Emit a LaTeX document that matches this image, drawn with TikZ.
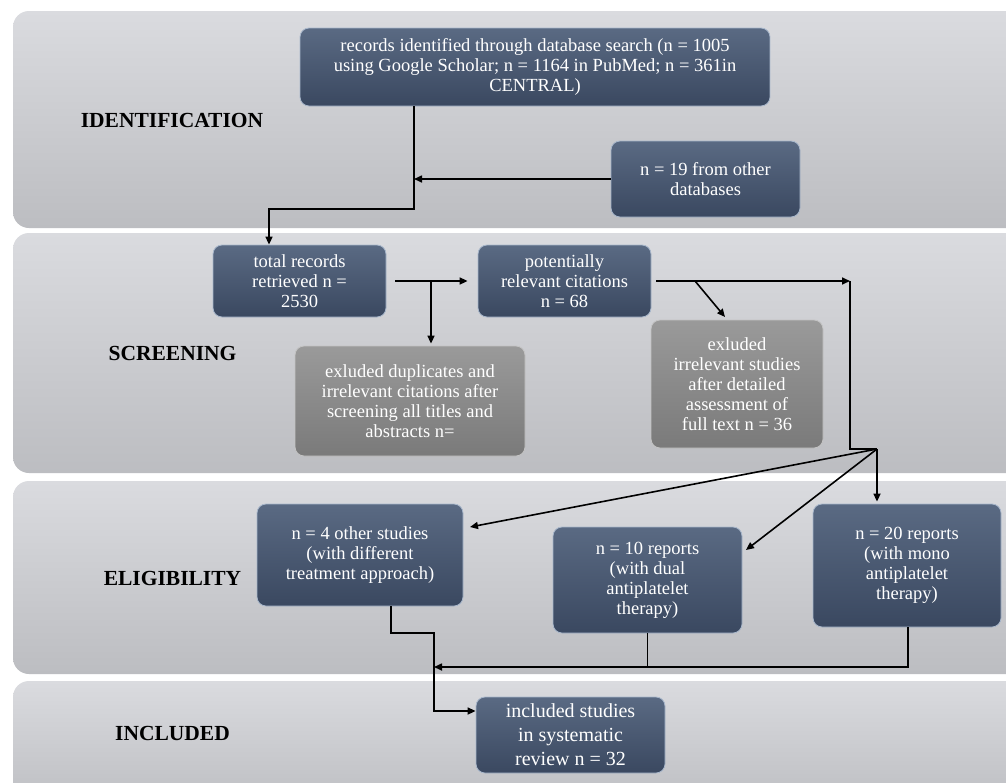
\documentclass[tikz,border=0pt]{standalone}
\usepackage{fontspec}
\setmainfont{Liberation Serif}
\usetikzlibrary{arrows.meta,calc}
\definecolor{bandtop}{HTML}{DADBDF}
\definecolor{bandbot}{HTML}{BCBDC1}
\definecolor{boxtop}{HTML}{5A6A83}
\definecolor{boxbot}{HTML}{3A4860}
\definecolor{boxline}{HTML}{A9B8CC}
\definecolor{greytop}{HTML}{9A9A9A}
\definecolor{greybot}{HTML}{7A7A7A}
\definecolor{greyline}{HTML}{C4C4C4}
\begin{document}
\begin{tikzpicture}[x=1pt,y=-1pt,
  band/.style={top color=bandtop,bottom color=bandbot,rounded corners=16pt},
  bluebox/.style={rounded corners=9pt, draw=boxline, line width=0.8pt, top color=boxtop, bottom color=boxbot, text=white, align=center, inner sep=0pt, font=\fontsize{18.5}{20}\selectfont},
  greybox/.style={bluebox, top color=greytop, bottom color=greybot, draw=greyline},
  stage/.style={font=\bfseries\fontsize{21.5}{24}\selectfont, text=black},
  conn/.style={line width=1.6pt, draw=black},
  arr/.style={conn, -{Triangle[length=8pt,width=7pt]}}]
\useasboundingbox (0,0) rectangle (1006,782);
\fill[white] (0,0) rectangle (1006,782);
\begin{scope}
\clip (0,0) rectangle (1006,782);
\shade[band] (13,11) rectangle (1040,228);
\shade[band] (13,233) rectangle (1040,473);
\shade[band] (13,481) rectangle (1040,674);
\shade[band] (13,681) rectangle (1040,810);
\end{scope}
% stage labels
\node[stage] (lid) at (172,120) {IDENTIFICATION};
\node[stage] (lsc) at (172.5,353) {SCREENING};
\node[stage] (lel) at (172.5,578) {ELIGIBILITY};
\node[stage] (lin) at (172.5,733) {INCLUDED};
% boxes
\node[bluebox, minimum width=470pt, minimum height=78pt] (rec) at (535,67)
  {records identified through database search (n = 1005\\using Google Scholar; n = 1164 in PubMed; n = 361in\\CENTRAL)};
\node[bluebox, minimum width=189pt, minimum height=76pt] (n19) at (705.5,179)
  {n = 19 from other\\databases};
\node[bluebox, minimum width=173pt, minimum height=72pt] (tot) at (299.5,281)
  {total records\\retrieved n =\\2530};
\node[bluebox, minimum width=173pt, minimum height=72pt] (pot) at (564.5,281)
  {potentially\\relevant citations\\n = 68};
\node[greybox, minimum width=230pt, minimum height=110pt] (dup) at (410,401)
  {exluded duplicates and\\irrelevant citations after\\screening all titles and\\abstracts n=};
\node[greybox, minimum width=172pt, minimum height=128pt] (irr) at (737,384)
  {exluded\\irrelevant studies\\after detailed\\assessment of\\full text n = 36};
\node[bluebox, minimum width=206pt, minimum height=102pt] (n4) at (360,555)
  {n = 4 other studies\\(with different\\treatment approach)};
\node[bluebox, minimum width=189pt, minimum height=106pt] (n10) at (647.5,580)
  {n = 10 reports\\(with dual\\antiplatelet\\therapy)};
\node[bluebox, minimum width=188pt, minimum height=123pt] (n20) at (907,565.5)
  {n = 20 reports\\(with mono\\antiplatelet\\therapy)};
\node[bluebox, minimum width=189pt, minimum height=76pt, font=\fontsize{20}{24}\selectfont] (inc) at (570.5,735)
  {included studies\\in systematic\\review n = 32};
% junction coordinates
\coordinate (k1) at (414,209);
\coordinate (k2) at (269,209);
\coordinate (k3) at (431,281);
\coordinate (k4) at (850,281);
\coordinate (k5) at (850,449);
\coordinate (k6) at (877,449);
\coordinate (k7) at (695,281);
\coordinate (k8) at (725,317);
\coordinate (t4) at (470,527);
\coordinate (t10) at (746,550);
\coordinate (b4) at (391,633);
\coordinate (b5) at (434,633);
\coordinate (b6) at (434,711);
\coordinate (b7) at (908,667);
\coordinate (b8) at (434,667);
% connectors
\draw[arr] (rec.south -| k1) -- (k1) -- (k2) -- (tot.north -| k2);
\draw[arr] (n19.west) -- (n19.west -| k1);
\draw[arr, shorten <=9pt, shorten >=10pt] (tot.east) -- (pot.west);
\draw[arr, shorten >=2pt] (k3) -- (dup.north -| k3);
\draw[arr, shorten <=5pt] (pot.east) -- (k4);
\draw[conn] (k4) -- (k5) -- (k6);
\draw[arr] (k7) -- (k8);
\draw[arr] (k6) -- (t4);
\draw[arr] (k6) -- (t10);
\draw[arr, shorten >=2pt] (k6) -- (n20.north -| k6);
\draw[arr] (n4.south -| b4) -- (b4) -- (b5) -- (b6) -- (inc.west |- b6);
\draw[arr] (n20.south -| b7) -- (b7) -- (b8);
\draw[conn] (n10.south) -- (n10.south |- b7);
\end{tikzpicture}
\end{document}
